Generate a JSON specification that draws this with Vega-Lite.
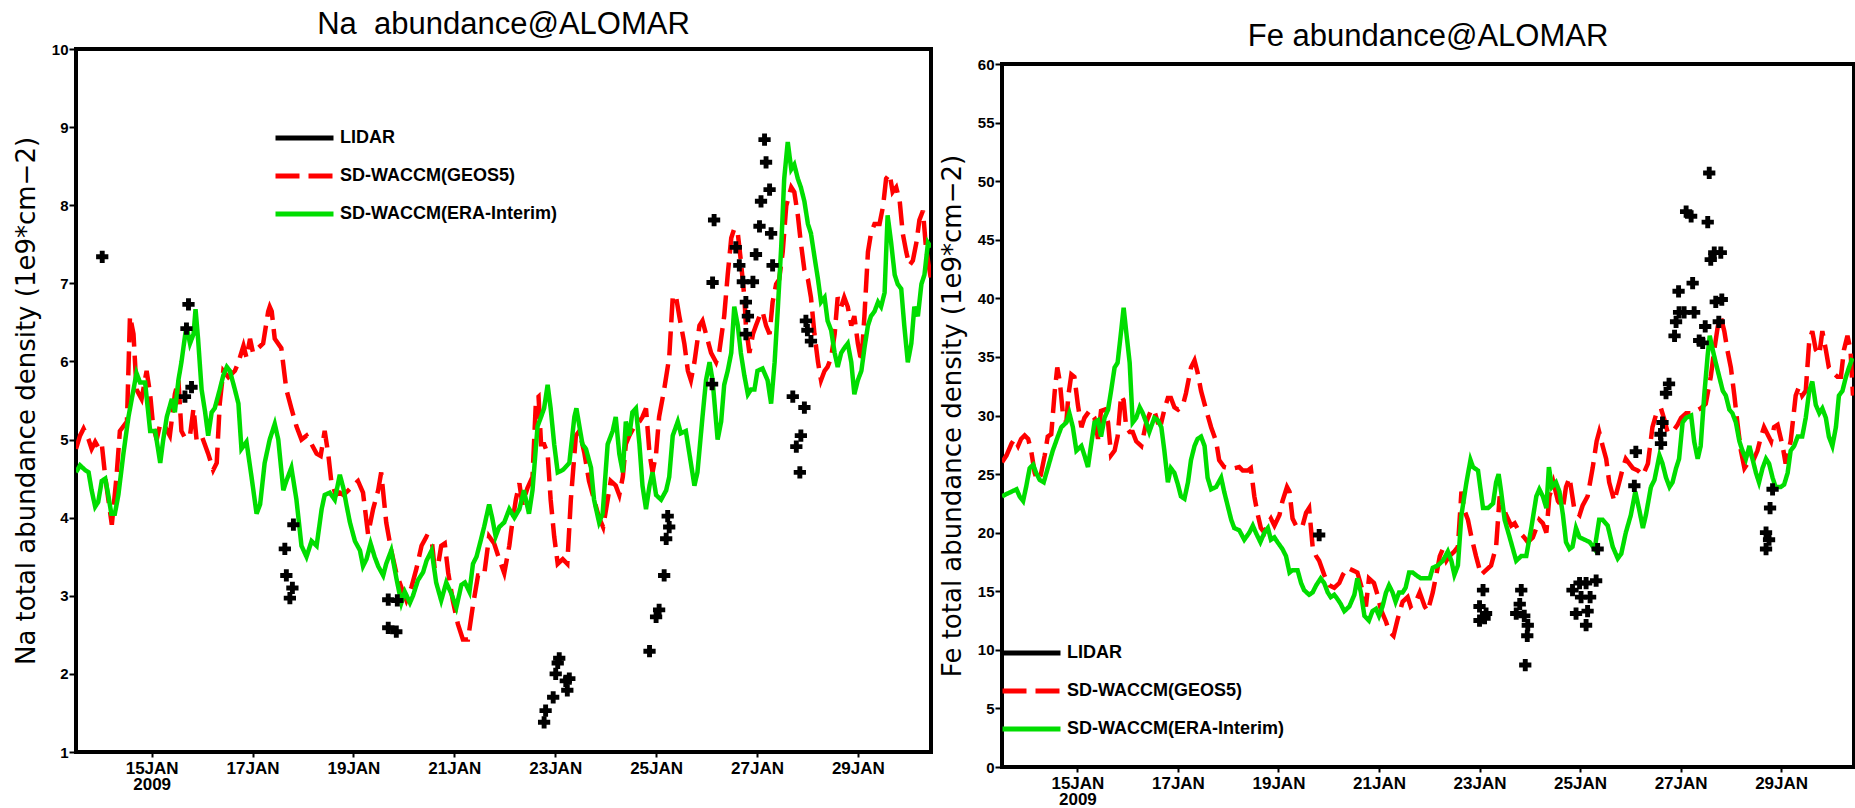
{
  "$schema": "https://vega.github.io/schema/vega-lite/v6.json",
  "background": "white",
  "padding": {"left": 11, "top": 7, "right": 0, "bottom": 0},
  "config": {
    "view": {"stroke": "black", "strokeWidth": 4},
    "axis": {"grid": false, "domain": false, "ticks": true, "tickColor": "black", "tickWidth": 2, "labelColor": "black", "titleColor": "black", "labelFlush": false, "labelOverlap": false},
    "axisY": {"labelFont": "Liberation Sans", "labelFontSize": 15, "labelFontWeight": "bold", "labelPadding": 1, "tickSize": 7, "format": "d", "titleFont": "DejaVu Sans", "titleFontSize": 26, "titleFontWeight": "normal", "titlePadding": 12},
    "axisX": {"labelFont": "Liberation Sans Narrow, Liberation Sans", "labelFontSize": 17, "labelFontWeight": "bold", "labelPadding": 3, "tickSize": 5, "labelLineHeight": 16},
    "title": {"font": "Liberation Sans", "fontSize": 31, "fontWeight": "normal", "color": "black", "baseline": "alphabetic", "offset": 1, "anchor": "middle"},
    "legend": {"orient": "none", "title": null, "symbolType": "stroke", "symbolSize": 3364, "symbolStrokeWidth": 5, "labelFont": "Liberation Sans", "labelFontSize": 18, "labelFontWeight": "bold", "labelColor": "black", "labelLimit": 0, "clipHeight": 20, "rowPadding": 18, "labelOffset": 4, "padding": 0}
  },
  "spacing": 4,
  "resolve": {"scale": {"x": "independent", "y": "independent", "color": "independent", "strokeDash": "independent"}, "legend": {"color": "independent", "strokeDash": "independent"}},
  "datasets": {
    "na": [
      {"s": "SD-WACCM(GEOS5)", "d": 13.50, "v": 4.88}, {"s": "SD-WACCM(GEOS5)", "d": 13.58, "v": 5.05}, {"s": "SD-WACCM(GEOS5)", "d": 13.65, "v": 5.14}, {"s": "SD-WACCM(GEOS5)", "d": 13.75, "v": 5.0}, {"s": "SD-WACCM(GEOS5)", "d": 13.81, "v": 4.88}, {"s": "SD-WACCM(GEOS5)", "d": 13.88, "v": 4.97}, {"s": "SD-WACCM(GEOS5)", "d": 13.94, "v": 4.9}, {"s": "SD-WACCM(GEOS5)", "d": 14.01, "v": 4.95}, {"s": "SD-WACCM(GEOS5)", "d": 14.08, "v": 4.52}, {"s": "SD-WACCM(GEOS5)", "d": 14.21, "v": 3.91}, {"s": "SD-WACCM(GEOS5)", "d": 14.30, "v": 4.5}, {"s": "SD-WACCM(GEOS5)", "d": 14.37, "v": 5.11}, {"s": "SD-WACCM(GEOS5)", "d": 14.51, "v": 5.23}, {"s": "SD-WACCM(GEOS5)", "d": 14.57, "v": 6.58}, {"s": "SD-WACCM(GEOS5)", "d": 14.64, "v": 6.35}, {"s": "SD-WACCM(GEOS5)", "d": 14.70, "v": 5.64}, {"s": "SD-WACCM(GEOS5)", "d": 14.80, "v": 5.52}, {"s": "SD-WACCM(GEOS5)", "d": 14.90, "v": 5.88}, {"s": "SD-WACCM(GEOS5)", "d": 14.97, "v": 5.58}, {"s": "SD-WACCM(GEOS5)", "d": 15.03, "v": 5.17}, {"s": "SD-WACCM(GEOS5)", "d": 15.10, "v": 5.0}, {"s": "SD-WACCM(GEOS5)", "d": 15.17, "v": 5.2}, {"s": "SD-WACCM(GEOS5)", "d": 15.26, "v": 5.17}, {"s": "SD-WACCM(GEOS5)", "d": 15.36, "v": 5.05}, {"s": "SD-WACCM(GEOS5)", "d": 15.46, "v": 5.58}, {"s": "SD-WACCM(GEOS5)", "d": 15.53, "v": 5.76}, {"s": "SD-WACCM(GEOS5)", "d": 15.59, "v": 5.11}, {"s": "SD-WACCM(GEOS5)", "d": 15.66, "v": 5.02}, {"s": "SD-WACCM(GEOS5)", "d": 15.76, "v": 5.05}, {"s": "SD-WACCM(GEOS5)", "d": 15.83, "v": 5.40}, {"s": "SD-WACCM(GEOS5)", "d": 15.89, "v": 5.0}, {"s": "SD-WACCM(GEOS5)", "d": 15.99, "v": 5.05}, {"s": "SD-WACCM(GEOS5)", "d": 16.12, "v": 4.82}, {"s": "SD-WACCM(GEOS5)", "d": 16.22, "v": 4.61}, {"s": "SD-WACCM(GEOS5)", "d": 16.29, "v": 4.7}, {"s": "SD-WACCM(GEOS5)", "d": 16.35, "v": 5.46}, {"s": "SD-WACCM(GEOS5)", "d": 16.42, "v": 5.88}, {"s": "SD-WACCM(GEOS5)", "d": 16.52, "v": 5.80}, {"s": "SD-WACCM(GEOS5)", "d": 16.65, "v": 5.88}, {"s": "SD-WACCM(GEOS5)", "d": 16.72, "v": 5.99}, {"s": "SD-WACCM(GEOS5)", "d": 16.82, "v": 6.2}, {"s": "SD-WACCM(GEOS5)", "d": 16.88, "v": 6.05}, {"s": "SD-WACCM(GEOS5)", "d": 16.95, "v": 6.29}, {"s": "SD-WACCM(GEOS5)", "d": 17.01, "v": 6.11}, {"s": "SD-WACCM(GEOS5)", "d": 17.11, "v": 6.17}, {"s": "SD-WACCM(GEOS5)", "d": 17.21, "v": 6.23}, {"s": "SD-WACCM(GEOS5)", "d": 17.31, "v": 6.64}, {"s": "SD-WACCM(GEOS5)", "d": 17.34, "v": 6.70}, {"s": "SD-WACCM(GEOS5)", "d": 17.38, "v": 6.64}, {"s": "SD-WACCM(GEOS5)", "d": 17.44, "v": 6.29}, {"s": "SD-WACCM(GEOS5)", "d": 17.57, "v": 6.17}, {"s": "SD-WACCM(GEOS5)", "d": 17.67, "v": 5.64}, {"s": "SD-WACCM(GEOS5)", "d": 17.77, "v": 5.40}, {"s": "SD-WACCM(GEOS5)", "d": 17.87, "v": 5.17}, {"s": "SD-WACCM(GEOS5)", "d": 17.97, "v": 5.0}, {"s": "SD-WACCM(GEOS5)", "d": 18.07, "v": 5.05}, {"s": "SD-WACCM(GEOS5)", "d": 18.17, "v": 4.94}, {"s": "SD-WACCM(GEOS5)", "d": 18.27, "v": 4.82}, {"s": "SD-WACCM(GEOS5)", "d": 18.35, "v": 4.79}, {"s": "SD-WACCM(GEOS5)", "d": 18.43, "v": 5.11}, {"s": "SD-WACCM(GEOS5)", "d": 18.50, "v": 4.82}, {"s": "SD-WACCM(GEOS5)", "d": 18.56, "v": 4.47}, {"s": "SD-WACCM(GEOS5)", "d": 18.65, "v": 4.29}, {"s": "SD-WACCM(GEOS5)", "d": 18.73, "v": 4.32}, {"s": "SD-WACCM(GEOS5)", "d": 18.80, "v": 4.29}, {"s": "SD-WACCM(GEOS5)", "d": 18.90, "v": 4.35}, {"s": "SD-WACCM(GEOS5)", "d": 18.99, "v": 4.41}, {"s": "SD-WACCM(GEOS5)", "d": 19.09, "v": 4.47}, {"s": "SD-WACCM(GEOS5)", "d": 19.19, "v": 4.32}, {"s": "SD-WACCM(GEOS5)", "d": 19.29, "v": 3.79}, {"s": "SD-WACCM(GEOS5)", "d": 19.39, "v": 4.11}, {"s": "SD-WACCM(GEOS5)", "d": 19.49, "v": 4.35}, {"s": "SD-WACCM(GEOS5)", "d": 19.55, "v": 4.58}, {"s": "SD-WACCM(GEOS5)", "d": 19.65, "v": 3.94}, {"s": "SD-WACCM(GEOS5)", "d": 19.75, "v": 3.58}, {"s": "SD-WACCM(GEOS5)", "d": 19.85, "v": 3.29}, {"s": "SD-WACCM(GEOS5)", "d": 19.95, "v": 3.11}, {"s": "SD-WACCM(GEOS5)", "d": 20.05, "v": 2.94}, {"s": "SD-WACCM(GEOS5)", "d": 20.15, "v": 3.11}, {"s": "SD-WACCM(GEOS5)", "d": 20.25, "v": 3.35}, {"s": "SD-WACCM(GEOS5)", "d": 20.35, "v": 3.64}, {"s": "SD-WACCM(GEOS5)", "d": 20.45, "v": 3.76}, {"s": "SD-WACCM(GEOS5)", "d": 20.55, "v": 3.73}, {"s": "SD-WACCM(GEOS5)", "d": 20.61, "v": 3.35}, {"s": "SD-WACCM(GEOS5)", "d": 20.68, "v": 3.40}, {"s": "SD-WACCM(GEOS5)", "d": 20.74, "v": 3.64}, {"s": "SD-WACCM(GEOS5)", "d": 20.81, "v": 3.67}, {"s": "SD-WACCM(GEOS5)", "d": 20.88, "v": 3.29}, {"s": "SD-WACCM(GEOS5)", "d": 20.97, "v": 2.94}, {"s": "SD-WACCM(GEOS5)", "d": 21.07, "v": 2.64}, {"s": "SD-WACCM(GEOS5)", "d": 21.17, "v": 2.44}, {"s": "SD-WACCM(GEOS5)", "d": 21.27, "v": 2.44}, {"s": "SD-WACCM(GEOS5)", "d": 21.37, "v": 2.88}, {"s": "SD-WACCM(GEOS5)", "d": 21.47, "v": 3.26},
      {"s": "SD-WACCM(GEOS5)", "d": 21.59, "v": 3.26}, {"s": "SD-WACCM(GEOS5)", "d": 21.69, "v": 3.76}, {"s": "SD-WACCM(GEOS5)", "d": 21.79, "v": 3.67}, {"s": "SD-WACCM(GEOS5)", "d": 21.89, "v": 3.47}, {"s": "SD-WACCM(GEOS5)", "d": 21.99, "v": 3.29}, {"s": "SD-WACCM(GEOS5)", "d": 22.09, "v": 3.64}, {"s": "SD-WACCM(GEOS5)", "d": 22.15, "v": 3.94}, {"s": "SD-WACCM(GEOS5)", "d": 22.22, "v": 4.23}, {"s": "SD-WACCM(GEOS5)", "d": 22.29, "v": 4.44}, {"s": "SD-WACCM(GEOS5)", "d": 22.35, "v": 4.17}, {"s": "SD-WACCM(GEOS5)", "d": 22.45, "v": 4.38}, {"s": "SD-WACCM(GEOS5)", "d": 22.55, "v": 4.52}, {"s": "SD-WACCM(GEOS5)", "d": 22.62, "v": 5.52}, {"s": "SD-WACCM(GEOS5)", "d": 22.67, "v": 5.55}, {"s": "SD-WACCM(GEOS5)", "d": 22.72, "v": 4.94}, {"s": "SD-WACCM(GEOS5)", "d": 22.78, "v": 4.94}, {"s": "SD-WACCM(GEOS5)", "d": 22.85, "v": 4.82}, {"s": "SD-WACCM(GEOS5)", "d": 22.91, "v": 4.23}, {"s": "SD-WACCM(GEOS5)", "d": 22.98, "v": 3.76}, {"s": "SD-WACCM(GEOS5)", "d": 23.05, "v": 3.41}, {"s": "SD-WACCM(GEOS5)", "d": 23.15, "v": 3.47}, {"s": "SD-WACCM(GEOS5)", "d": 23.24, "v": 3.41}, {"s": "SD-WACCM(GEOS5)", "d": 23.31, "v": 4.23}, {"s": "SD-WACCM(GEOS5)", "d": 23.41, "v": 5.05}, {"s": "SD-WACCM(GEOS5)", "d": 23.48, "v": 5.11}, {"s": "SD-WACCM(GEOS5)", "d": 23.58, "v": 4.82}, {"s": "SD-WACCM(GEOS5)", "d": 23.67, "v": 4.47}, {"s": "SD-WACCM(GEOS5)", "d": 23.77, "v": 4.23}, {"s": "SD-WACCM(GEOS5)", "d": 23.87, "v": 4.0}, {"s": "SD-WACCM(GEOS5)", "d": 23.95, "v": 3.88}, {"s": "SD-WACCM(GEOS5)", "d": 24.04, "v": 4.23}, {"s": "SD-WACCM(GEOS5)", "d": 24.10, "v": 4.47}, {"s": "SD-WACCM(GEOS5)", "d": 24.20, "v": 4.41}, {"s": "SD-WACCM(GEOS5)", "d": 24.27, "v": 4.29}, {"s": "SD-WACCM(GEOS5)", "d": 24.34, "v": 4.52}, {"s": "SD-WACCM(GEOS5)", "d": 24.40, "v": 4.94}, {"s": "SD-WACCM(GEOS5)", "d": 24.47, "v": 5.05}, {"s": "SD-WACCM(GEOS5)", "d": 24.57, "v": 5.17}, {"s": "SD-WACCM(GEOS5)", "d": 24.67, "v": 5.23}, {"s": "SD-WACCM(GEOS5)", "d": 24.73, "v": 5.29}, {"s": "SD-WACCM(GEOS5)", "d": 24.80, "v": 5.40}, {"s": "SD-WACCM(GEOS5)", "d": 24.87, "v": 4.82}, {"s": "SD-WACCM(GEOS5)", "d": 24.93, "v": 4.58}, {"s": "SD-WACCM(GEOS5)", "d": 25.00, "v": 4.82}, {"s": "SD-WACCM(GEOS5)", "d": 25.06, "v": 5.29}, {"s": "SD-WACCM(GEOS5)", "d": 25.16, "v": 5.64}, {"s": "SD-WACCM(GEOS5)", "d": 25.26, "v": 6.05}, {"s": "SD-WACCM(GEOS5)", "d": 25.33, "v": 6.82}, {"s": "SD-WACCM(GEOS5)", "d": 25.39, "v": 6.85}, {"s": "SD-WACCM(GEOS5)", "d": 25.46, "v": 6.58}, {"s": "SD-WACCM(GEOS5)", "d": 25.56, "v": 6.23}, {"s": "SD-WACCM(GEOS5)", "d": 25.63, "v": 5.88}, {"s": "SD-WACCM(GEOS5)", "d": 25.69, "v": 5.76}, {"s": "SD-WACCM(GEOS5)", "d": 25.76, "v": 5.99}, {"s": "SD-WACCM(GEOS5)", "d": 25.86, "v": 6.46}, {"s": "SD-WACCM(GEOS5)", "d": 25.92, "v": 6.52}, {"s": "SD-WACCM(GEOS5)", "d": 25.99, "v": 6.35}, {"s": "SD-WACCM(GEOS5)", "d": 26.09, "v": 6.11}, {"s": "SD-WACCM(GEOS5)", "d": 26.19, "v": 5.99}, {"s": "SD-WACCM(GEOS5)", "d": 26.25, "v": 6.11}, {"s": "SD-WACCM(GEOS5)", "d": 26.35, "v": 6.58}, {"s": "SD-WACCM(GEOS5)", "d": 26.42, "v": 7.11}, {"s": "SD-WACCM(GEOS5)", "d": 26.49, "v": 7.58}, {"s": "SD-WACCM(GEOS5)", "d": 26.55, "v": 7.70}, {"s": "SD-WACCM(GEOS5)", "d": 26.62, "v": 7.64}, {"s": "SD-WACCM(GEOS5)", "d": 26.68, "v": 7.29}, {"s": "SD-WACCM(GEOS5)", "d": 26.75, "v": 6.82}, {"s": "SD-WACCM(GEOS5)", "d": 26.78, "v": 6.46}, {"s": "SD-WACCM(GEOS5)", "d": 26.85, "v": 6.11}, {"s": "SD-WACCM(GEOS5)", "d": 26.92, "v": 6.35}, {"s": "SD-WACCM(GEOS5)", "d": 26.98, "v": 6.46}, {"s": "SD-WACCM(GEOS5)", "d": 27.05, "v": 6.58}, {"s": "SD-WACCM(GEOS5)", "d": 27.11, "v": 6.64}, {"s": "SD-WACCM(GEOS5)", "d": 27.18, "v": 6.46}, {"s": "SD-WACCM(GEOS5)", "d": 27.25, "v": 6.35}, {"s": "SD-WACCM(GEOS5)", "d": 27.31, "v": 6.76}, {"s": "SD-WACCM(GEOS5)", "d": 27.38, "v": 6.99}, {"s": "SD-WACCM(GEOS5)", "d": 27.44, "v": 7.05}, {"s": "SD-WACCM(GEOS5)", "d": 27.51, "v": 7.40}, {"s": "SD-WACCM(GEOS5)", "d": 27.58, "v": 7.99}, {"s": "SD-WACCM(GEOS5)", "d": 27.68, "v": 8.23}, {"s": "SD-WACCM(GEOS5)", "d": 27.74, "v": 8.17}, {"s": "SD-WACCM(GEOS5)", "d": 27.81, "v": 7.87}, {"s": "SD-WACCM(GEOS5)", "d": 27.87, "v": 7.52}, {"s": "SD-WACCM(GEOS5)", "d": 27.94, "v": 7.17}, {"s": "SD-WACCM(GEOS5)", "d": 28.01, "v": 7.05}, {"s": "SD-WACCM(GEOS5)", "d": 28.07, "v": 6.82}, {"s": "SD-WACCM(GEOS5)", "d": 28.14, "v": 6.35}, {"s": "SD-WACCM(GEOS5)", "d": 28.21, "v": 5.99}, {"s": "SD-WACCM(GEOS5)", "d": 28.27, "v": 5.76}, {"s": "SD-WACCM(GEOS5)", "d": 28.34, "v": 5.88}, {"s": "SD-WACCM(GEOS5)", "d": 28.40, "v": 5.93}, {"s": "SD-WACCM(GEOS5)", "d": 28.47, "v": 6.05}, {"s": "SD-WACCM(GEOS5)", "d": 28.54, "v": 6.35}, {"s": "SD-WACCM(GEOS5)", "d": 28.60, "v": 6.82}, {"s": "SD-WACCM(GEOS5)", "d": 28.67, "v": 6.70}, {"s": "SD-WACCM(GEOS5)", "d": 28.73, "v": 6.82}, {"s": "SD-WACCM(GEOS5)", "d": 28.80, "v": 6.70}, {"s": "SD-WACCM(GEOS5)", "d": 28.87, "v": 6.46}, {"s": "SD-WACCM(GEOS5)", "d": 28.93, "v": 6.58}, {"s": "SD-WACCM(GEOS5)", "d": 29.00, "v": 6.23}, {"s": "SD-WACCM(GEOS5)", "d": 29.07, "v": 5.99}, {"s": "SD-WACCM(GEOS5)", "d": 29.13, "v": 6.58}, {"s": "SD-WACCM(GEOS5)", "d": 29.20, "v": 7.40}, {"s": "SD-WACCM(GEOS5)", "d": 29.26, "v": 7.64}, {"s": "SD-WACCM(GEOS5)", "d": 29.33, "v": 7.76}, {"s": "SD-WACCM(GEOS5)", "d": 29.43, "v": 7.76}, {"s": "SD-WACCM(GEOS5)", "d": 29.50, "v": 7.99}, {"s": "SD-WACCM(GEOS5)", "d": 29.56, "v": 8.34}, {"s": "SD-WACCM(GEOS5)", "d": 29.63, "v": 8.40}, {"s": "SD-WACCM(GEOS5)", "d": 29.69, "v": 8.17}, {"s": "SD-WACCM(GEOS5)", "d": 29.76, "v": 8.23}, {"s": "SD-WACCM(GEOS5)", "d": 29.83, "v": 8.05}, {"s": "SD-WACCM(GEOS5)", "d": 29.89, "v": 7.64}, {"s": "SD-WACCM(GEOS5)", "d": 29.96, "v": 7.40}, {"s": "SD-WACCM(GEOS5)", "d": 30.02, "v": 7.23}, {"s": "SD-WACCM(GEOS5)", "d": 30.09, "v": 7.29}, {"s": "SD-WACCM(GEOS5)", "d": 30.16, "v": 7.52}, {"s": "SD-WACCM(GEOS5)", "d": 30.22, "v": 7.81}, {"s": "SD-WACCM(GEOS5)", "d": 30.29, "v": 7.93}, {"s": "SD-WACCM(GEOS5)", "d": 30.35, "v": 7.46}, {"s": "SD-WACCM(GEOS5)", "d": 30.42, "v": 7.17}, {"s": "SD-WACCM(GEOS5)", "d": 30.45, "v": 7.05},
      {"s": "SD-WACCM(ERA-Interim)", "d": 13.50, "v": 4.58}, {"s": "SD-WACCM(ERA-Interim)", "d": 13.58, "v": 4.67}, {"s": "SD-WACCM(ERA-Interim)", "d": 13.68, "v": 4.61}, {"s": "SD-WACCM(ERA-Interim)", "d": 13.75, "v": 4.58}, {"s": "SD-WACCM(ERA-Interim)", "d": 13.81, "v": 4.35}, {"s": "SD-WACCM(ERA-Interim)", "d": 13.88, "v": 4.14}, {"s": "SD-WACCM(ERA-Interim)", "d": 13.94, "v": 4.2}, {"s": "SD-WACCM(ERA-Interim)", "d": 14.01, "v": 4.47}, {"s": "SD-WACCM(ERA-Interim)", "d": 14.08, "v": 4.5}, {"s": "SD-WACCM(ERA-Interim)", "d": 14.14, "v": 4.29}, {"s": "SD-WACCM(ERA-Interim)", "d": 14.20, "v": 4.05}, {"s": "SD-WACCM(ERA-Interim)", "d": 14.27, "v": 4.05}, {"s": "SD-WACCM(ERA-Interim)", "d": 14.34, "v": 4.29}, {"s": "SD-WACCM(ERA-Interim)", "d": 14.44, "v": 4.82}, {"s": "SD-WACCM(ERA-Interim)", "d": 14.54, "v": 5.29}, {"s": "SD-WACCM(ERA-Interim)", "d": 14.64, "v": 5.64}, {"s": "SD-WACCM(ERA-Interim)", "d": 14.70, "v": 5.85}, {"s": "SD-WACCM(ERA-Interim)", "d": 14.77, "v": 5.73}, {"s": "SD-WACCM(ERA-Interim)", "d": 14.87, "v": 5.73}, {"s": "SD-WACCM(ERA-Interim)", "d": 14.97, "v": 5.11}, {"s": "SD-WACCM(ERA-Interim)", "d": 15.07, "v": 5.11}, {"s": "SD-WACCM(ERA-Interim)", "d": 15.17, "v": 4.70}, {"s": "SD-WACCM(ERA-Interim)", "d": 15.23, "v": 5.0}, {"s": "SD-WACCM(ERA-Interim)", "d": 15.30, "v": 5.29}, {"s": "SD-WACCM(ERA-Interim)", "d": 15.40, "v": 5.52}, {"s": "SD-WACCM(ERA-Interim)", "d": 15.46, "v": 5.35}, {"s": "SD-WACCM(ERA-Interim)", "d": 15.53, "v": 5.76}, {"s": "SD-WACCM(ERA-Interim)", "d": 15.59, "v": 5.99}, {"s": "SD-WACCM(ERA-Interim)", "d": 15.69, "v": 6.46}, {"s": "SD-WACCM(ERA-Interim)", "d": 15.76, "v": 6.23}, {"s": "SD-WACCM(ERA-Interim)", "d": 15.83, "v": 6.35}, {"s": "SD-WACCM(ERA-Interim)", "d": 15.87, "v": 6.67}, {"s": "SD-WACCM(ERA-Interim)", "d": 15.92, "v": 6.29}, {"s": "SD-WACCM(ERA-Interim)", "d": 15.99, "v": 5.64}, {"s": "SD-WACCM(ERA-Interim)", "d": 16.06, "v": 5.35}, {"s": "SD-WACCM(ERA-Interim)", "d": 16.12, "v": 5.05}, {"s": "SD-WACCM(ERA-Interim)", "d": 16.19, "v": 5.35}, {"s": "SD-WACCM(ERA-Interim)", "d": 16.25, "v": 5.40}, {"s": "SD-WACCM(ERA-Interim)", "d": 16.35, "v": 5.64}, {"s": "SD-WACCM(ERA-Interim)", "d": 16.42, "v": 5.82}, {"s": "SD-WACCM(ERA-Interim)", "d": 16.49, "v": 5.93}, {"s": "SD-WACCM(ERA-Interim)", "d": 16.55, "v": 5.88}, {"s": "SD-WACCM(ERA-Interim)", "d": 16.65, "v": 5.64}, {"s": "SD-WACCM(ERA-Interim)", "d": 16.72, "v": 5.46}, {"s": "SD-WACCM(ERA-Interim)", "d": 16.78, "v": 4.88}, {"s": "SD-WACCM(ERA-Interim)", "d": 16.88, "v": 4.97}, {"s": "SD-WACCM(ERA-Interim)", "d": 16.98, "v": 4.52}, {"s": "SD-WACCM(ERA-Interim)", "d": 17.08, "v": 4.05}, {"s": "SD-WACCM(ERA-Interim)", "d": 17.15, "v": 4.17}, {"s": "SD-WACCM(ERA-Interim)", "d": 17.24, "v": 4.70}, {"s": "SD-WACCM(ERA-Interim)", "d": 17.34, "v": 5.0}, {"s": "SD-WACCM(ERA-Interim)", "d": 17.44, "v": 5.2}, {"s": "SD-WACCM(ERA-Interim)", "d": 17.51, "v": 5.0}, {"s": "SD-WACCM(ERA-Interim)", "d": 17.61, "v": 4.35}, {"s": "SD-WACCM(ERA-Interim)", "d": 17.67, "v": 4.47}, {"s": "SD-WACCM(ERA-Interim)", "d": 17.77, "v": 4.64}, {"s": "SD-WACCM(ERA-Interim)", "d": 17.87, "v": 4.23}, {"s": "SD-WACCM(ERA-Interim)", "d": 17.97, "v": 3.64}, {"s": "SD-WACCM(ERA-Interim)", "d": 18.07, "v": 3.50}, {"s": "SD-WACCM(ERA-Interim)", "d": 18.17, "v": 3.70}, {"s": "SD-WACCM(ERA-Interim)", "d": 18.27, "v": 3.64}, {"s": "SD-WACCM(ERA-Interim)", "d": 18.37, "v": 4.11}, {"s": "SD-WACCM(ERA-Interim)", "d": 18.43, "v": 4.29}, {"s": "SD-WACCM(ERA-Interim)", "d": 18.53, "v": 4.32}, {"s": "SD-WACCM(ERA-Interim)", "d": 18.63, "v": 4.23}, {"s": "SD-WACCM(ERA-Interim)", "d": 18.73, "v": 4.55}, {"s": "SD-WACCM(ERA-Interim)", "d": 18.80, "v": 4.38}, {"s": "SD-WACCM(ERA-Interim)", "d": 18.86, "v": 4.17}, {"s": "SD-WACCM(ERA-Interim)", "d": 18.93, "v": 3.94}, {"s": "SD-WACCM(ERA-Interim)", "d": 19.03, "v": 3.70}, {"s": "SD-WACCM(ERA-Interim)", "d": 19.13, "v": 3.58}, {"s": "SD-WACCM(ERA-Interim)", "d": 19.19, "v": 3.38}, {"s": "SD-WACCM(ERA-Interim)", "d": 19.26, "v": 3.47}, {"s": "SD-WACCM(ERA-Interim)", "d": 19.34, "v": 3.67}, {"s": "SD-WACCM(ERA-Interim)", "d": 19.42, "v": 3.50}, {"s": "SD-WACCM(ERA-Interim)", "d": 19.49, "v": 3.38}, {"s": "SD-WACCM(ERA-Interim)", "d": 19.59, "v": 3.26}, {"s": "SD-WACCM(ERA-Interim)", "d": 19.65, "v": 3.41}, {"s": "SD-WACCM(ERA-Interim)", "d": 19.75, "v": 3.58}, {"s": "SD-WACCM(ERA-Interim)", "d": 19.85, "v": 3.23}, {"s": "SD-WACCM(ERA-Interim)", "d": 19.95, "v": 2.91}, {"s": "SD-WACCM(ERA-Interim)", "d": 20.02, "v": 3.05}, {"s": "SD-WACCM(ERA-Interim)", "d": 20.12, "v": 2.91}, {"s": "SD-WACCM(ERA-Interim)", "d": 20.18, "v": 3.0}, {"s": "SD-WACCM(ERA-Interim)", "d": 20.28, "v": 3.2}, {"s": "SD-WACCM(ERA-Interim)", "d": 20.38, "v": 3.3}, {"s": "SD-WACCM(ERA-Interim)", "d": 20.45, "v": 3.45}, {"s": "SD-WACCM(ERA-Interim)", "d": 20.55, "v": 3.58}, {"s": "SD-WACCM(ERA-Interim)", "d": 20.64, "v": 3.17}, {"s": "SD-WACCM(ERA-Interim)", "d": 20.74, "v": 2.94}, {"s": "SD-WACCM(ERA-Interim)", "d": 20.84, "v": 3.17}, {"s": "SD-WACCM(ERA-Interim)", "d": 20.94, "v": 3.03}, {"s": "SD-WACCM(ERA-Interim)", "d": 21.04, "v": 2.85}, {"s": "SD-WACCM(ERA-Interim)", "d": 21.14, "v": 3.14}, {"s": "SD-WACCM(ERA-Interim)", "d": 21.21, "v": 3.17}, {"s": "SD-WACCM(ERA-Interim)", "d": 21.30, "v": 3.05}, {"s": "SD-WACCM(ERA-Interim)", "d": 21.37, "v": 3.41}, {"s": "SD-WACCM(ERA-Interim)", "d": 21.44, "v": 3.50},
      {"s": "SD-WACCM(ERA-Interim)", "d": 21.52, "v": 3.70}, {"s": "SD-WACCM(ERA-Interim)", "d": 21.59, "v": 3.88}, {"s": "SD-WACCM(ERA-Interim)", "d": 21.69, "v": 4.17}, {"s": "SD-WACCM(ERA-Interim)", "d": 21.75, "v": 4.0}, {"s": "SD-WACCM(ERA-Interim)", "d": 21.82, "v": 3.76}, {"s": "SD-WACCM(ERA-Interim)", "d": 21.89, "v": 3.88}, {"s": "SD-WACCM(ERA-Interim)", "d": 21.99, "v": 3.94}, {"s": "SD-WACCM(ERA-Interim)", "d": 22.09, "v": 4.11}, {"s": "SD-WACCM(ERA-Interim)", "d": 22.19, "v": 4.0}, {"s": "SD-WACCM(ERA-Interim)", "d": 22.29, "v": 4.11}, {"s": "SD-WACCM(ERA-Interim)", "d": 22.38, "v": 4.35}, {"s": "SD-WACCM(ERA-Interim)", "d": 22.48, "v": 4.05}, {"s": "SD-WACCM(ERA-Interim)", "d": 22.55, "v": 4.35}, {"s": "SD-WACCM(ERA-Interim)", "d": 22.65, "v": 5.17}, {"s": "SD-WACCM(ERA-Interim)", "d": 22.72, "v": 5.29}, {"s": "SD-WACCM(ERA-Interim)", "d": 22.78, "v": 5.40}, {"s": "SD-WACCM(ERA-Interim)", "d": 22.85, "v": 5.70}, {"s": "SD-WACCM(ERA-Interim)", "d": 22.91, "v": 5.40}, {"s": "SD-WACCM(ERA-Interim)", "d": 22.98, "v": 4.94}, {"s": "SD-WACCM(ERA-Interim)", "d": 23.05, "v": 4.58}, {"s": "SD-WACCM(ERA-Interim)", "d": 23.15, "v": 4.61}, {"s": "SD-WACCM(ERA-Interim)", "d": 23.28, "v": 4.70}, {"s": "SD-WACCM(ERA-Interim)", "d": 23.38, "v": 5.29}, {"s": "SD-WACCM(ERA-Interim)", "d": 23.42, "v": 5.40}, {"s": "SD-WACCM(ERA-Interim)", "d": 23.48, "v": 5.17}, {"s": "SD-WACCM(ERA-Interim)", "d": 23.54, "v": 4.94}, {"s": "SD-WACCM(ERA-Interim)", "d": 23.61, "v": 4.88}, {"s": "SD-WACCM(ERA-Interim)", "d": 23.71, "v": 4.64}, {"s": "SD-WACCM(ERA-Interim)", "d": 23.77, "v": 4.23}, {"s": "SD-WACCM(ERA-Interim)", "d": 23.87, "v": 3.94}, {"s": "SD-WACCM(ERA-Interim)", "d": 23.94, "v": 4.05}, {"s": "SD-WACCM(ERA-Interim)", "d": 24.04, "v": 4.94}, {"s": "SD-WACCM(ERA-Interim)", "d": 24.14, "v": 5.11}, {"s": "SD-WACCM(ERA-Interim)", "d": 24.20, "v": 5.29}, {"s": "SD-WACCM(ERA-Interim)", "d": 24.27, "v": 4.82}, {"s": "SD-WACCM(ERA-Interim)", "d": 24.34, "v": 4.58}, {"s": "SD-WACCM(ERA-Interim)", "d": 24.40, "v": 5.23}, {"s": "SD-WACCM(ERA-Interim)", "d": 24.47, "v": 5.05}, {"s": "SD-WACCM(ERA-Interim)", "d": 24.53, "v": 5.35}, {"s": "SD-WACCM(ERA-Interim)", "d": 24.60, "v": 5.40}, {"s": "SD-WACCM(ERA-Interim)", "d": 24.67, "v": 4.94}, {"s": "SD-WACCM(ERA-Interim)", "d": 24.73, "v": 4.41}, {"s": "SD-WACCM(ERA-Interim)", "d": 24.80, "v": 4.11}, {"s": "SD-WACCM(ERA-Interim)", "d": 24.87, "v": 4.41}, {"s": "SD-WACCM(ERA-Interim)", "d": 24.93, "v": 4.58}, {"s": "SD-WACCM(ERA-Interim)", "d": 25.00, "v": 4.29}, {"s": "SD-WACCM(ERA-Interim)", "d": 25.10, "v": 4.23}, {"s": "SD-WACCM(ERA-Interim)", "d": 25.20, "v": 4.35}, {"s": "SD-WACCM(ERA-Interim)", "d": 25.26, "v": 4.52}, {"s": "SD-WACCM(ERA-Interim)", "d": 25.33, "v": 5.05}, {"s": "SD-WACCM(ERA-Interim)", "d": 25.43, "v": 5.23}, {"s": "SD-WACCM(ERA-Interim)", "d": 25.49, "v": 5.08}, {"s": "SD-WACCM(ERA-Interim)", "d": 25.59, "v": 5.11}, {"s": "SD-WACCM(ERA-Interim)", "d": 25.66, "v": 4.82}, {"s": "SD-WACCM(ERA-Interim)", "d": 25.76, "v": 4.41}, {"s": "SD-WACCM(ERA-Interim)", "d": 25.82, "v": 4.58}, {"s": "SD-WACCM(ERA-Interim)", "d": 25.92, "v": 5.29}, {"s": "SD-WACCM(ERA-Interim)", "d": 25.99, "v": 5.76}, {"s": "SD-WACCM(ERA-Interim)", "d": 26.06, "v": 5.99}, {"s": "SD-WACCM(ERA-Interim)", "d": 26.12, "v": 5.76}, {"s": "SD-WACCM(ERA-Interim)", "d": 26.22, "v": 5.0}, {"s": "SD-WACCM(ERA-Interim)", "d": 26.29, "v": 5.23}, {"s": "SD-WACCM(ERA-Interim)", "d": 26.35, "v": 5.70}, {"s": "SD-WACCM(ERA-Interim)", "d": 26.42, "v": 5.88}, {"s": "SD-WACCM(ERA-Interim)", "d": 26.49, "v": 6.11}, {"s": "SD-WACCM(ERA-Interim)", "d": 26.55, "v": 6.70}, {"s": "SD-WACCM(ERA-Interim)", "d": 26.62, "v": 6.46}, {"s": "SD-WACCM(ERA-Interim)", "d": 26.68, "v": 6.11}, {"s": "SD-WACCM(ERA-Interim)", "d": 26.75, "v": 5.82}, {"s": "SD-WACCM(ERA-Interim)", "d": 26.82, "v": 5.58}, {"s": "SD-WACCM(ERA-Interim)", "d": 26.88, "v": 5.64}, {"s": "SD-WACCM(ERA-Interim)", "d": 26.95, "v": 5.64}, {"s": "SD-WACCM(ERA-Interim)", "d": 27.01, "v": 5.88}, {"s": "SD-WACCM(ERA-Interim)", "d": 27.11, "v": 5.91}, {"s": "SD-WACCM(ERA-Interim)", "d": 27.21, "v": 5.76}, {"s": "SD-WACCM(ERA-Interim)", "d": 27.28, "v": 5.46}, {"s": "SD-WACCM(ERA-Interim)", "d": 27.35, "v": 5.99}, {"s": "SD-WACCM(ERA-Interim)", "d": 27.41, "v": 6.64}, {"s": "SD-WACCM(ERA-Interim)", "d": 27.48, "v": 7.46}, {"s": "SD-WACCM(ERA-Interim)", "d": 27.54, "v": 8.34}, {"s": "SD-WACCM(ERA-Interim)", "d": 27.61, "v": 8.81}, {"s": "SD-WACCM(ERA-Interim)", "d": 27.68, "v": 8.46}, {"s": "SD-WACCM(ERA-Interim)", "d": 27.74, "v": 8.52}, {"s": "SD-WACCM(ERA-Interim)", "d": 27.81, "v": 8.34}, {"s": "SD-WACCM(ERA-Interim)", "d": 27.87, "v": 8.23}, {"s": "SD-WACCM(ERA-Interim)", "d": 27.94, "v": 8.05}, {"s": "SD-WACCM(ERA-Interim)", "d": 28.01, "v": 7.76}, {"s": "SD-WACCM(ERA-Interim)", "d": 28.07, "v": 7.64}, {"s": "SD-WACCM(ERA-Interim)", "d": 28.14, "v": 7.34}, {"s": "SD-WACCM(ERA-Interim)", "d": 28.21, "v": 7.05}, {"s": "SD-WACCM(ERA-Interim)", "d": 28.27, "v": 6.76}, {"s": "SD-WACCM(ERA-Interim)", "d": 28.34, "v": 6.82}, {"s": "SD-WACCM(ERA-Interim)", "d": 28.40, "v": 6.52}, {"s": "SD-WACCM(ERA-Interim)", "d": 28.47, "v": 6.40}, {"s": "SD-WACCM(ERA-Interim)", "d": 28.54, "v": 6.11}, {"s": "SD-WACCM(ERA-Interim)", "d": 28.60, "v": 5.93}, {"s": "SD-WACCM(ERA-Interim)", "d": 28.67, "v": 6.11}, {"s": "SD-WACCM(ERA-Interim)", "d": 28.73, "v": 6.17}, {"s": "SD-WACCM(ERA-Interim)", "d": 28.80, "v": 6.23}, {"s": "SD-WACCM(ERA-Interim)", "d": 28.87, "v": 5.99}, {"s": "SD-WACCM(ERA-Interim)", "d": 28.93, "v": 5.58}, {"s": "SD-WACCM(ERA-Interim)", "d": 29.00, "v": 5.76}, {"s": "SD-WACCM(ERA-Interim)", "d": 29.07, "v": 5.88}, {"s": "SD-WACCM(ERA-Interim)", "d": 29.13, "v": 6.17}, {"s": "SD-WACCM(ERA-Interim)", "d": 29.20, "v": 6.46}, {"s": "SD-WACCM(ERA-Interim)", "d": 29.26, "v": 6.58}, {"s": "SD-WACCM(ERA-Interim)", "d": 29.33, "v": 6.64}, {"s": "SD-WACCM(ERA-Interim)", "d": 29.40, "v": 6.76}, {"s": "SD-WACCM(ERA-Interim)", "d": 29.46, "v": 6.70}, {"s": "SD-WACCM(ERA-Interim)", "d": 29.53, "v": 6.88}, {"s": "SD-WACCM(ERA-Interim)", "d": 29.59, "v": 7.87}, {"s": "SD-WACCM(ERA-Interim)", "d": 29.66, "v": 7.52}, {"s": "SD-WACCM(ERA-Interim)", "d": 29.73, "v": 7.11}, {"s": "SD-WACCM(ERA-Interim)", "d": 29.79, "v": 6.99}, {"s": "SD-WACCM(ERA-Interim)", "d": 29.86, "v": 6.93}, {"s": "SD-WACCM(ERA-Interim)", "d": 29.92, "v": 6.46}, {"s": "SD-WACCM(ERA-Interim)", "d": 29.99, "v": 5.99}, {"s": "SD-WACCM(ERA-Interim)", "d": 30.06, "v": 6.23}, {"s": "SD-WACCM(ERA-Interim)", "d": 30.12, "v": 6.70}, {"s": "SD-WACCM(ERA-Interim)", "d": 30.19, "v": 6.58}, {"s": "SD-WACCM(ERA-Interim)", "d": 30.26, "v": 6.99}, {"s": "SD-WACCM(ERA-Interim)", "d": 30.32, "v": 7.11}, {"s": "SD-WACCM(ERA-Interim)", "d": 30.39, "v": 7.52}, {"s": "SD-WACCM(ERA-Interim)", "d": 30.45, "v": 7.46},
      {"s": "LIDAR", "d": 14.02, "v": 7.34}, {"s": "LIDAR", "d": 15.66, "v": 5.55}, {"s": "LIDAR", "d": 15.69, "v": 6.42}, {"s": "LIDAR", "d": 15.73, "v": 6.73}, {"s": "LIDAR", "d": 15.79, "v": 5.67}, {"s": "LIDAR", "d": 17.64, "v": 3.60}, {"s": "LIDAR", "d": 17.67, "v": 3.26}, {"s": "LIDAR", "d": 17.74, "v": 2.97}, {"s": "LIDAR", "d": 17.79, "v": 3.10}, {"s": "LIDAR", "d": 17.81, "v": 3.91}, {"s": "LIDAR", "d": 19.69, "v": 2.95}, {"s": "LIDAR", "d": 19.69, "v": 2.59}, {"s": "LIDAR", "d": 19.85, "v": 2.54}, {"s": "LIDAR", "d": 19.87, "v": 2.94}, {"s": "LIDAR", "d": 22.78, "v": 1.38}, {"s": "LIDAR", "d": 22.81, "v": 1.53}, {"s": "LIDAR", "d": 22.96, "v": 1.70}, {"s": "LIDAR", "d": 23.01, "v": 2.0}, {"s": "LIDAR", "d": 23.05, "v": 2.14}, {"s": "LIDAR", "d": 23.08, "v": 2.20}, {"s": "LIDAR", "d": 23.21, "v": 1.91}, {"s": "LIDAR", "d": 23.24, "v": 1.79}, {"s": "LIDAR", "d": 23.28, "v": 1.94}, {"s": "LIDAR", "d": 24.87, "v": 2.29}, {"s": "LIDAR", "d": 25.00, "v": 2.73}, {"s": "LIDAR", "d": 25.06, "v": 2.82}, {"s": "LIDAR", "d": 25.16, "v": 3.26}, {"s": "LIDAR", "d": 25.20, "v": 3.73}, {"s": "LIDAR", "d": 25.23, "v": 4.02}, {"s": "LIDAR", "d": 25.26, "v": 3.88}, {"s": "LIDAR", "d": 26.11, "v": 5.71}, {"s": "LIDAR", "d": 26.12, "v": 7.01}, {"s": "LIDAR", "d": 26.15, "v": 7.81}, {"s": "LIDAR", "d": 26.58, "v": 7.46}, {"s": "LIDAR", "d": 26.65, "v": 7.23}, {"s": "LIDAR", "d": 26.72, "v": 7.02}, {"s": "LIDAR", "d": 26.78, "v": 6.76}, {"s": "LIDAR", "d": 26.82, "v": 6.58}, {"s": "LIDAR", "d": 26.78, "v": 6.35}, {"s": "LIDAR", "d": 26.92, "v": 7.02}, {"s": "LIDAR", "d": 26.98, "v": 7.37}, {"s": "LIDAR", "d": 27.05, "v": 7.73}, {"s": "LIDAR", "d": 27.08, "v": 8.05}, {"s": "LIDAR", "d": 27.25, "v": 8.20}, {"s": "LIDAR", "d": 27.18, "v": 8.55}, {"s": "LIDAR", "d": 27.15, "v": 8.84}, {"s": "LIDAR", "d": 27.28, "v": 7.64}, {"s": "LIDAR", "d": 27.31, "v": 7.23}, {"s": "LIDAR", "d": 27.71, "v": 5.55}, {"s": "LIDAR", "d": 27.94, "v": 5.41}, {"s": "LIDAR", "d": 27.87, "v": 5.05}, {"s": "LIDAR", "d": 27.78, "v": 4.91}, {"s": "LIDAR", "d": 27.85, "v": 4.58}, {"s": "LIDAR", "d": 28.00, "v": 6.40}, {"s": "LIDAR", "d": 27.97, "v": 6.52}, {"s": "LIDAR", "d": 28.07, "v": 6.26}
    ],
    "fe": [
      {"s": "SD-WACCM(GEOS5)", "d": 13.50, "v": 26.0}, {"s": "SD-WACCM(GEOS5)", "d": 13.59, "v": 26.6}, {"s": "SD-WACCM(GEOS5)", "d": 13.69, "v": 27.6}, {"s": "SD-WACCM(GEOS5)", "d": 13.75, "v": 28.0}, {"s": "SD-WACCM(GEOS5)", "d": 13.82, "v": 27.4}, {"s": "SD-WACCM(GEOS5)", "d": 13.88, "v": 28.0}, {"s": "SD-WACCM(GEOS5)", "d": 13.95, "v": 28.3}, {"s": "SD-WACCM(GEOS5)", "d": 14.02, "v": 28.0}, {"s": "SD-WACCM(GEOS5)", "d": 14.08, "v": 27.0}, {"s": "SD-WACCM(GEOS5)", "d": 14.15, "v": 25.1}, {"s": "SD-WACCM(GEOS5)", "d": 14.20, "v": 24.5}, {"s": "SD-WACCM(GEOS5)", "d": 14.27, "v": 24.9}, {"s": "SD-WACCM(GEOS5)", "d": 14.35, "v": 26.6}, {"s": "SD-WACCM(GEOS5)", "d": 14.41, "v": 28.2}, {"s": "SD-WACCM(GEOS5)", "d": 14.48, "v": 28.4}, {"s": "SD-WACCM(GEOS5)", "d": 14.55, "v": 32.1}, {"s": "SD-WACCM(GEOS5)", "d": 14.60, "v": 34.1}, {"s": "SD-WACCM(GEOS5)", "d": 14.65, "v": 32.9}, {"s": "SD-WACCM(GEOS5)", "d": 14.71, "v": 30.2}, {"s": "SD-WACCM(GEOS5)", "d": 14.78, "v": 29.4}, {"s": "SD-WACCM(GEOS5)", "d": 14.82, "v": 31.7}, {"s": "SD-WACCM(GEOS5)", "d": 14.88, "v": 33.5}, {"s": "SD-WACCM(GEOS5)", "d": 14.94, "v": 33.3}, {"s": "SD-WACCM(GEOS5)", "d": 15.01, "v": 30.9}, {"s": "SD-WACCM(GEOS5)", "d": 15.08, "v": 29.0}, {"s": "SD-WACCM(GEOS5)", "d": 15.14, "v": 29.8}, {"s": "SD-WACCM(GEOS5)", "d": 15.24, "v": 30.4}, {"s": "SD-WACCM(GEOS5)", "d": 15.34, "v": 29.8}, {"s": "SD-WACCM(GEOS5)", "d": 15.41, "v": 28.0}, {"s": "SD-WACCM(GEOS5)", "d": 15.47, "v": 30.4}, {"s": "SD-WACCM(GEOS5)", "d": 15.54, "v": 30.5}, {"s": "SD-WACCM(GEOS5)", "d": 15.61, "v": 29.4}, {"s": "SD-WACCM(GEOS5)", "d": 15.67, "v": 26.6}, {"s": "SD-WACCM(GEOS5)", "d": 15.74, "v": 27.0}, {"s": "SD-WACCM(GEOS5)", "d": 15.80, "v": 28.2}, {"s": "SD-WACCM(GEOS5)", "d": 15.87, "v": 31.7}, {"s": "SD-WACCM(GEOS5)", "d": 15.92, "v": 31.3}, {"s": "SD-WACCM(GEOS5)", "d": 15.97, "v": 29.0}, {"s": "SD-WACCM(GEOS5)", "d": 16.04, "v": 28.6}, {"s": "SD-WACCM(GEOS5)", "d": 16.10, "v": 28.6}, {"s": "SD-WACCM(GEOS5)", "d": 16.17, "v": 27.8}, {"s": "SD-WACCM(GEOS5)", "d": 16.27, "v": 27.4}, {"s": "SD-WACCM(GEOS5)", "d": 16.37, "v": 29.4}, {"s": "SD-WACCM(GEOS5)", "d": 16.47, "v": 30.5}, {"s": "SD-WACCM(GEOS5)", "d": 16.53, "v": 30.4}, {"s": "SD-WACCM(GEOS5)", "d": 16.60, "v": 29.4}, {"s": "SD-WACCM(GEOS5)", "d": 16.67, "v": 29.4}, {"s": "SD-WACCM(GEOS5)", "d": 16.73, "v": 30.5}, {"s": "SD-WACCM(GEOS5)", "d": 16.80, "v": 31.5}, {"s": "SD-WACCM(GEOS5)", "d": 16.86, "v": 31.5}, {"s": "SD-WACCM(GEOS5)", "d": 16.93, "v": 30.7}, {"s": "SD-WACCM(GEOS5)", "d": 17.00, "v": 30.5}, {"s": "SD-WACCM(GEOS5)", "d": 17.10, "v": 30.9}, {"s": "SD-WACCM(GEOS5)", "d": 17.16, "v": 31.9}, {"s": "SD-WACCM(GEOS5)", "d": 17.26, "v": 34.1}, {"s": "SD-WACCM(GEOS5)", "d": 17.33, "v": 34.7}, {"s": "SD-WACCM(GEOS5)", "d": 17.39, "v": 33.7}, {"s": "SD-WACCM(GEOS5)", "d": 17.46, "v": 32.1}, {"s": "SD-WACCM(GEOS5)", "d": 17.56, "v": 30.5}, {"s": "SD-WACCM(GEOS5)", "d": 17.66, "v": 29.0}, {"s": "SD-WACCM(GEOS5)", "d": 17.76, "v": 27.8}, {"s": "SD-WACCM(GEOS5)", "d": 17.82, "v": 26.2}, {"s": "SD-WACCM(GEOS5)", "d": 17.92, "v": 25.6}, {"s": "SD-WACCM(GEOS5)", "d": 18.02, "v": 25.5}, {"s": "SD-WACCM(GEOS5)", "d": 18.12, "v": 25.5}, {"s": "SD-WACCM(GEOS5)", "d": 18.22, "v": 25.6}, {"s": "SD-WACCM(GEOS5)", "d": 18.29, "v": 25.3}, {"s": "SD-WACCM(GEOS5)", "d": 18.39, "v": 25.3}, {"s": "SD-WACCM(GEOS5)", "d": 18.45, "v": 25.5}, {"s": "SD-WACCM(GEOS5)", "d": 18.52, "v": 23.1}, {"s": "SD-WACCM(GEOS5)", "d": 18.59, "v": 21.5}, {"s": "SD-WACCM(GEOS5)", "d": 18.65, "v": 20.4}, {"s": "SD-WACCM(GEOS5)", "d": 18.72, "v": 20.0}, {"s": "SD-WACCM(GEOS5)", "d": 18.79, "v": 20.8}, {"s": "SD-WACCM(GEOS5)", "d": 18.85, "v": 21.2}, {"s": "SD-WACCM(GEOS5)", "d": 18.92, "v": 20.6}, {"s": "SD-WACCM(GEOS5)", "d": 19.02, "v": 21.5}, {"s": "SD-WACCM(GEOS5)", "d": 19.08, "v": 22.7}, {"s": "SD-WACCM(GEOS5)", "d": 19.17, "v": 23.9}, {"s": "SD-WACCM(GEOS5)", "d": 19.22, "v": 23.5}, {"s": "SD-WACCM(GEOS5)", "d": 19.28, "v": 21.2}, {"s": "SD-WACCM(GEOS5)", "d": 19.35, "v": 20.6}, {"s": "SD-WACCM(GEOS5)", "d": 19.41, "v": 20.8}, {"s": "SD-WACCM(GEOS5)", "d": 19.48, "v": 20.6}, {"s": "SD-WACCM(GEOS5)", "d": 19.55, "v": 21.7}, {"s": "SD-WACCM(GEOS5)", "d": 19.61, "v": 22.1}, {"s": "SD-WACCM(GEOS5)", "d": 19.68, "v": 18.8}, {"s": "SD-WACCM(GEOS5)", "d": 19.75, "v": 18.0}, {"s": "SD-WACCM(GEOS5)", "d": 19.81, "v": 17.6}, {"s": "SD-WACCM(GEOS5)", "d": 19.91, "v": 16.4}, {"s": "SD-WACCM(GEOS5)", "d": 20.01, "v": 15.5}, {"s": "SD-WACCM(GEOS5)", "d": 20.11, "v": 15.3}, {"s": "SD-WACCM(GEOS5)", "d": 20.21, "v": 15.7}, {"s": "SD-WACCM(GEOS5)", "d": 20.28, "v": 16.4}, {"s": "SD-WACCM(GEOS5)", "d": 20.37, "v": 17.0}, {"s": "SD-WACCM(GEOS5)", "d": 20.47, "v": 16.8}, {"s": "SD-WACCM(GEOS5)", "d": 20.57, "v": 16.6}, {"s": "SD-WACCM(GEOS5)", "d": 20.67, "v": 15.1}, {"s": "SD-WACCM(GEOS5)", "d": 20.74, "v": 13.7}, {"s": "SD-WACCM(GEOS5)", "d": 20.80, "v": 16.1}, {"s": "SD-WACCM(GEOS5)", "d": 20.90, "v": 15.7}, {"s": "SD-WACCM(GEOS5)", "d": 20.97, "v": 14.7}, {"s": "SD-WACCM(GEOS5)", "d": 21.04, "v": 13.4}, {"s": "SD-WACCM(GEOS5)", "d": 21.14, "v": 12.4}, {"s": "SD-WACCM(GEOS5)", "d": 21.20, "v": 11.6}, {"s": "SD-WACCM(GEOS5)", "d": 21.29, "v": 11.2}, {"s": "SD-WACCM(GEOS5)", "d": 21.37, "v": 12.6}, {"s": "SD-WACCM(GEOS5)", "d": 21.47, "v": 14.1}, {"s": "SD-WACCM(GEOS5)", "d": 21.57, "v": 14.5}, {"s": "SD-WACCM(GEOS5)", "d": 21.63, "v": 13.7}, {"s": "SD-WACCM(GEOS5)", "d": 21.73, "v": 14.1}, {"s": "SD-WACCM(GEOS5)", "d": 21.81, "v": 14.9}, {"s": "SD-WACCM(GEOS5)", "d": 21.91, "v": 13.7}, {"s": "SD-WACCM(GEOS5)", "d": 21.97, "v": 13.3}, {"s": "SD-WACCM(GEOS5)", "d": 22.07, "v": 14.9}, {"s": "SD-WACCM(GEOS5)", "d": 22.14, "v": 16.4}, {"s": "SD-WACCM(GEOS5)", "d": 22.21, "v": 18.0}, {"s": "SD-WACCM(GEOS5)", "d": 22.27, "v": 18.6}, {"s": "SD-WACCM(GEOS5)", "d": 22.34, "v": 17.6}, {"s": "SD-WACCM(GEOS5)", "d": 22.40, "v": 18.0}, {"s": "SD-WACCM(GEOS5)", "d": 22.50, "v": 18.4}, {"s": "SD-WACCM(GEOS5)", "d": 22.57, "v": 18.8}, {"s": "SD-WACCM(GEOS5)", "d": 22.64, "v": 23.5}, {"s": "SD-WACCM(GEOS5)", "d": 22.70, "v": 21.9}, {"s": "SD-WACCM(GEOS5)", "d": 22.77, "v": 21.1}, {"s": "SD-WACCM(GEOS5)", "d": 22.84, "v": 19.6}, {"s": "SD-WACCM(GEOS5)", "d": 22.93, "v": 18.0}, {"s": "SD-WACCM(GEOS5)", "d": 23.03, "v": 16.4}, {"s": "SD-WACCM(GEOS5)", "d": 23.13, "v": 16.8}, {"s": "SD-WACCM(GEOS5)", "d": 23.23, "v": 17.2}, {"s": "SD-WACCM(GEOS5)", "d": 23.33, "v": 18.8}, {"s": "SD-WACCM(GEOS5)", "d": 23.40, "v": 23.1}, {"s": "SD-WACCM(GEOS5)", "d": 23.46, "v": 22.3}, {"s": "SD-WACCM(GEOS5)", "d": 23.53, "v": 21.5}, {"s": "SD-WACCM(GEOS5)", "d": 23.63, "v": 20.6}, {"s": "SD-WACCM(GEOS5)", "d": 23.70, "v": 20.8}, {"s": "SD-WACCM(GEOS5)", "d": 23.80, "v": 20.0}, {"s": "SD-WACCM(GEOS5)", "d": 23.89, "v": 19.6}, {"s": "SD-WACCM(GEOS5)", "d": 23.96, "v": 19.2}, {"s": "SD-WACCM(GEOS5)", "d": 24.06, "v": 19.6}, {"s": "SD-WACCM(GEOS5)", "d": 24.13, "v": 20.4}, {"s": "SD-WACCM(GEOS5)", "d": 24.19, "v": 21.1}, {"s": "SD-WACCM(GEOS5)", "d": 24.26, "v": 20.8}, {"s": "SD-WACCM(GEOS5)", "d": 24.33, "v": 20.0}, {"s": "SD-WACCM(GEOS5)", "d": 24.39, "v": 23.1}, {"s": "SD-WACCM(GEOS5)", "d": 24.47, "v": 24.3}, {"s": "SD-WACCM(GEOS5)", "d": 24.56, "v": 22.7}, {"s": "SD-WACCM(GEOS5)", "d": 24.66, "v": 22.1}, {"s": "SD-WACCM(GEOS5)", "d": 24.72, "v": 23.9}, {"s": "SD-WACCM(GEOS5)", "d": 24.79, "v": 24.7}, {"s": "SD-WACCM(GEOS5)", "d": 24.89, "v": 21.9}, {"s": "SD-WACCM(GEOS5)", "d": 24.99, "v": 21.5}, {"s": "SD-WACCM(GEOS5)", "d": 25.05, "v": 22.3}, {"s": "SD-WACCM(GEOS5)", "d": 25.15, "v": 23.1}, {"s": "SD-WACCM(GEOS5)", "d": 25.25, "v": 25.5}, {"s": "SD-WACCM(GEOS5)", "d": 25.33, "v": 27.8}, {"s": "SD-WACCM(GEOS5)", "d": 25.38, "v": 28.6}, {"s": "SD-WACCM(GEOS5)", "d": 25.45, "v": 27.4}, {"s": "SD-WACCM(GEOS5)", "d": 25.52, "v": 26.3}, {"s": "SD-WACCM(GEOS5)", "d": 25.58, "v": 24.3}, {"s": "SD-WACCM(GEOS5)", "d": 25.68, "v": 22.7}, {"s": "SD-WACCM(GEOS5)", "d": 25.78, "v": 24.3}, {"s": "SD-WACCM(GEOS5)", "d": 25.85, "v": 25.5}, {"s": "SD-WACCM(GEOS5)", "d": 25.91, "v": 26.3}, {"s": "SD-WACCM(GEOS5)", "d": 25.98, "v": 25.9}, {"s": "SD-WACCM(GEOS5)", "d": 26.05, "v": 25.5}, {"s": "SD-WACCM(GEOS5)", "d": 26.15, "v": 25.3}, {"s": "SD-WACCM(GEOS5)", "d": 26.25, "v": 24.9}, {"s": "SD-WACCM(GEOS5)", "d": 26.35, "v": 25.9}, {"s": "SD-WACCM(GEOS5)", "d": 26.44, "v": 29.0}, {"s": "SD-WACCM(GEOS5)", "d": 26.52, "v": 30.2}, {"s": "SD-WACCM(GEOS5)", "d": 26.61, "v": 30.6}, {"s": "SD-WACCM(GEOS5)", "d": 26.68, "v": 29.6}, {"s": "SD-WACCM(GEOS5)", "d": 26.74, "v": 28.6}, {"s": "SD-WACCM(GEOS5)", "d": 26.84, "v": 28.6}, {"s": "SD-WACCM(GEOS5)", "d": 26.94, "v": 29.2}, {"s": "SD-WACCM(GEOS5)", "d": 27.01, "v": 29.8}, {"s": "SD-WACCM(GEOS5)", "d": 27.11, "v": 30.2}, {"s": "SD-WACCM(GEOS5)", "d": 27.21, "v": 30.2}, {"s": "SD-WACCM(GEOS5)", "d": 27.31, "v": 30.4}, {"s": "SD-WACCM(GEOS5)", "d": 27.40, "v": 30.6}, {"s": "SD-WACCM(GEOS5)", "d": 27.50, "v": 31.0}, {"s": "SD-WACCM(GEOS5)", "d": 27.60, "v": 33.3}, {"s": "SD-WACCM(GEOS5)", "d": 27.67, "v": 35.6}, {"s": "SD-WACCM(GEOS5)", "d": 27.74, "v": 37.6}, {"s": "SD-WACCM(GEOS5)", "d": 27.80, "v": 38.4}, {"s": "SD-WACCM(GEOS5)", "d": 27.87, "v": 37.2}, {"s": "SD-WACCM(GEOS5)", "d": 27.93, "v": 35.6}, {"s": "SD-WACCM(GEOS5)", "d": 28.00, "v": 34.1}, {"s": "SD-WACCM(GEOS5)", "d": 28.07, "v": 31.7}, {"s": "SD-WACCM(GEOS5)", "d": 28.13, "v": 29.4}, {"s": "SD-WACCM(GEOS5)", "d": 28.20, "v": 27.0}, {"s": "SD-WACCM(GEOS5)", "d": 28.27, "v": 25.5}, {"s": "SD-WACCM(GEOS5)", "d": 28.33, "v": 25.9}, {"s": "SD-WACCM(GEOS5)", "d": 28.40, "v": 26.6}, {"s": "SD-WACCM(GEOS5)", "d": 28.46, "v": 26.3}, {"s": "SD-WACCM(GEOS5)", "d": 28.53, "v": 27.0}, {"s": "SD-WACCM(GEOS5)", "d": 28.60, "v": 28.2}, {"s": "SD-WACCM(GEOS5)", "d": 28.66, "v": 29.0}, {"s": "SD-WACCM(GEOS5)", "d": 28.73, "v": 28.4}, {"s": "SD-WACCM(GEOS5)", "d": 28.80, "v": 27.8}, {"s": "SD-WACCM(GEOS5)", "d": 28.86, "v": 29.0}, {"s": "SD-WACCM(GEOS5)", "d": 28.93, "v": 29.2}, {"s": "SD-WACCM(GEOS5)", "d": 29.03, "v": 27.4}, {"s": "SD-WACCM(GEOS5)", "d": 29.09, "v": 25.9}, {"s": "SD-WACCM(GEOS5)", "d": 29.19, "v": 27.8}, {"s": "SD-WACCM(GEOS5)", "d": 29.29, "v": 31.7}, {"s": "SD-WACCM(GEOS5)", "d": 29.36, "v": 32.5}, {"s": "SD-WACCM(GEOS5)", "d": 29.42, "v": 31.7}, {"s": "SD-WACCM(GEOS5)", "d": 29.49, "v": 32.1}, {"s": "SD-WACCM(GEOS5)", "d": 29.56, "v": 36.4}, {"s": "SD-WACCM(GEOS5)", "d": 29.62, "v": 37.2}, {"s": "SD-WACCM(GEOS5)", "d": 29.69, "v": 35.6}, {"s": "SD-WACCM(GEOS5)", "d": 29.76, "v": 35.2}, {"s": "SD-WACCM(GEOS5)", "d": 29.82, "v": 37.2}, {"s": "SD-WACCM(GEOS5)", "d": 29.89, "v": 35.6}, {"s": "SD-WACCM(GEOS5)", "d": 29.95, "v": 34.1}, {"s": "SD-WACCM(GEOS5)", "d": 30.02, "v": 33.7}, {"s": "SD-WACCM(GEOS5)", "d": 30.12, "v": 33.3}, {"s": "SD-WACCM(GEOS5)", "d": 30.19, "v": 33.3}, {"s": "SD-WACCM(GEOS5)", "d": 30.25, "v": 35.6}, {"s": "SD-WACCM(GEOS5)", "d": 30.32, "v": 36.8}, {"s": "SD-WACCM(GEOS5)", "d": 30.38, "v": 35.6}, {"s": "SD-WACCM(GEOS5)", "d": 30.43, "v": 31.7},
      {"s": "SD-WACCM(ERA-Interim)", "d": 13.50, "v": 23.1}, {"s": "SD-WACCM(ERA-Interim)", "d": 13.59, "v": 23.3}, {"s": "SD-WACCM(ERA-Interim)", "d": 13.69, "v": 23.5}, {"s": "SD-WACCM(ERA-Interim)", "d": 13.79, "v": 23.7}, {"s": "SD-WACCM(ERA-Interim)", "d": 13.85, "v": 23.1}, {"s": "SD-WACCM(ERA-Interim)", "d": 13.92, "v": 22.7}, {"s": "SD-WACCM(ERA-Interim)", "d": 13.98, "v": 23.9}, {"s": "SD-WACCM(ERA-Interim)", "d": 14.05, "v": 25.5}, {"s": "SD-WACCM(ERA-Interim)", "d": 14.12, "v": 25.8}, {"s": "SD-WACCM(ERA-Interim)", "d": 14.18, "v": 25.1}, {"s": "SD-WACCM(ERA-Interim)", "d": 14.25, "v": 24.5}, {"s": "SD-WACCM(ERA-Interim)", "d": 14.33, "v": 24.3}, {"s": "SD-WACCM(ERA-Interim)", "d": 14.41, "v": 25.5}, {"s": "SD-WACCM(ERA-Interim)", "d": 14.51, "v": 27.0}, {"s": "SD-WACCM(ERA-Interim)", "d": 14.61, "v": 28.2}, {"s": "SD-WACCM(ERA-Interim)", "d": 14.68, "v": 29.0}, {"s": "SD-WACCM(ERA-Interim)", "d": 14.78, "v": 29.4}, {"s": "SD-WACCM(ERA-Interim)", "d": 14.84, "v": 30.2}, {"s": "SD-WACCM(ERA-Interim)", "d": 14.91, "v": 29.0}, {"s": "SD-WACCM(ERA-Interim)", "d": 14.98, "v": 27.0}, {"s": "SD-WACCM(ERA-Interim)", "d": 15.08, "v": 27.4}, {"s": "SD-WACCM(ERA-Interim)", "d": 15.14, "v": 26.6}, {"s": "SD-WACCM(ERA-Interim)", "d": 15.21, "v": 25.6}, {"s": "SD-WACCM(ERA-Interim)", "d": 15.27, "v": 27.4}, {"s": "SD-WACCM(ERA-Interim)", "d": 15.34, "v": 29.4}, {"s": "SD-WACCM(ERA-Interim)", "d": 15.41, "v": 29.6}, {"s": "SD-WACCM(ERA-Interim)", "d": 15.47, "v": 28.2}, {"s": "SD-WACCM(ERA-Interim)", "d": 15.54, "v": 29.8}, {"s": "SD-WACCM(ERA-Interim)", "d": 15.61, "v": 30.5}, {"s": "SD-WACCM(ERA-Interim)", "d": 15.67, "v": 32.1}, {"s": "SD-WACCM(ERA-Interim)", "d": 15.74, "v": 34.1}, {"s": "SD-WACCM(ERA-Interim)", "d": 15.80, "v": 34.5}, {"s": "SD-WACCM(ERA-Interim)", "d": 15.87, "v": 37.2}, {"s": "SD-WACCM(ERA-Interim)", "d": 15.92, "v": 39.2}, {"s": "SD-WACCM(ERA-Interim)", "d": 15.97, "v": 37.2}, {"s": "SD-WACCM(ERA-Interim)", "d": 16.04, "v": 34.5}, {"s": "SD-WACCM(ERA-Interim)", "d": 16.10, "v": 29.4}, {"s": "SD-WACCM(ERA-Interim)", "d": 16.17, "v": 29.8}, {"s": "SD-WACCM(ERA-Interim)", "d": 16.24, "v": 30.7}, {"s": "SD-WACCM(ERA-Interim)", "d": 16.30, "v": 30.2}, {"s": "SD-WACCM(ERA-Interim)", "d": 16.37, "v": 29.4}, {"s": "SD-WACCM(ERA-Interim)", "d": 16.43, "v": 28.6}, {"s": "SD-WACCM(ERA-Interim)", "d": 16.53, "v": 29.8}, {"s": "SD-WACCM(ERA-Interim)", "d": 16.60, "v": 29.6}, {"s": "SD-WACCM(ERA-Interim)", "d": 16.67, "v": 29.0}, {"s": "SD-WACCM(ERA-Interim)", "d": 16.73, "v": 27.0}, {"s": "SD-WACCM(ERA-Interim)", "d": 16.80, "v": 24.3}, {"s": "SD-WACCM(ERA-Interim)", "d": 16.86, "v": 25.5}, {"s": "SD-WACCM(ERA-Interim)", "d": 16.93, "v": 25.1}, {"s": "SD-WACCM(ERA-Interim)", "d": 17.00, "v": 24.1}, {"s": "SD-WACCM(ERA-Interim)", "d": 17.06, "v": 23.1}, {"s": "SD-WACCM(ERA-Interim)", "d": 17.13, "v": 22.9}, {"s": "SD-WACCM(ERA-Interim)", "d": 17.20, "v": 24.3}, {"s": "SD-WACCM(ERA-Interim)", "d": 17.26, "v": 26.2}, {"s": "SD-WACCM(ERA-Interim)", "d": 17.33, "v": 27.4}, {"s": "SD-WACCM(ERA-Interim)", "d": 17.39, "v": 28.0}, {"s": "SD-WACCM(ERA-Interim)", "d": 17.46, "v": 28.2}, {"s": "SD-WACCM(ERA-Interim)", "d": 17.53, "v": 27.4}, {"s": "SD-WACCM(ERA-Interim)", "d": 17.59, "v": 24.7}, {"s": "SD-WACCM(ERA-Interim)", "d": 17.66, "v": 23.7}, {"s": "SD-WACCM(ERA-Interim)", "d": 17.76, "v": 23.9}, {"s": "SD-WACCM(ERA-Interim)", "d": 17.86, "v": 24.7}, {"s": "SD-WACCM(ERA-Interim)", "d": 17.92, "v": 23.5}, {"s": "SD-WACCM(ERA-Interim)", "d": 17.99, "v": 22.3}, {"s": "SD-WACCM(ERA-Interim)", "d": 18.06, "v": 21.1}, {"s": "SD-WACCM(ERA-Interim)", "d": 18.12, "v": 20.4}, {"s": "SD-WACCM(ERA-Interim)", "d": 18.22, "v": 20.2}, {"s": "SD-WACCM(ERA-Interim)", "d": 18.32, "v": 19.4}, {"s": "SD-WACCM(ERA-Interim)", "d": 18.42, "v": 20.0}, {"s": "SD-WACCM(ERA-Interim)", "d": 18.49, "v": 20.6}, {"s": "SD-WACCM(ERA-Interim)", "d": 18.55, "v": 20.0}, {"s": "SD-WACCM(ERA-Interim)", "d": 18.64, "v": 19.2}, {"s": "SD-WACCM(ERA-Interim)", "d": 18.72, "v": 20.0}, {"s": "SD-WACCM(ERA-Interim)", "d": 18.79, "v": 20.4}, {"s": "SD-WACCM(ERA-Interim)", "d": 18.85, "v": 19.4}, {"s": "SD-WACCM(ERA-Interim)", "d": 18.92, "v": 19.6}, {"s": "SD-WACCM(ERA-Interim)", "d": 18.98, "v": 19.2}, {"s": "SD-WACCM(ERA-Interim)", "d": 19.08, "v": 18.6}, {"s": "SD-WACCM(ERA-Interim)", "d": 19.15, "v": 18.0}, {"s": "SD-WACCM(ERA-Interim)", "d": 19.22, "v": 16.6}, {"s": "SD-WACCM(ERA-Interim)", "d": 19.28, "v": 16.8}, {"s": "SD-WACCM(ERA-Interim)", "d": 19.38, "v": 16.8}, {"s": "SD-WACCM(ERA-Interim)", "d": 19.45, "v": 15.7}, {"s": "SD-WACCM(ERA-Interim)", "d": 19.51, "v": 15.1}, {"s": "SD-WACCM(ERA-Interim)", "d": 19.61, "v": 14.7}, {"s": "SD-WACCM(ERA-Interim)", "d": 19.68, "v": 14.9}, {"s": "SD-WACCM(ERA-Interim)", "d": 19.75, "v": 15.5}, {"s": "SD-WACCM(ERA-Interim)", "d": 19.84, "v": 16.1}, {"s": "SD-WACCM(ERA-Interim)", "d": 19.91, "v": 15.7}, {"s": "SD-WACCM(ERA-Interim)", "d": 19.98, "v": 14.9}, {"s": "SD-WACCM(ERA-Interim)", "d": 20.04, "v": 14.5}, {"s": "SD-WACCM(ERA-Interim)", "d": 20.11, "v": 14.7}, {"s": "SD-WACCM(ERA-Interim)", "d": 20.18, "v": 14.3}, {"s": "SD-WACCM(ERA-Interim)", "d": 20.24, "v": 13.9}, {"s": "SD-WACCM(ERA-Interim)", "d": 20.31, "v": 13.3}, {"s": "SD-WACCM(ERA-Interim)", "d": 20.41, "v": 13.7}, {"s": "SD-WACCM(ERA-Interim)", "d": 20.51, "v": 14.7}, {"s": "SD-WACCM(ERA-Interim)", "d": 20.57, "v": 16.1}, {"s": "SD-WACCM(ERA-Interim)", "d": 20.64, "v": 14.9}, {"s": "SD-WACCM(ERA-Interim)", "d": 20.71, "v": 12.9}, {"s": "SD-WACCM(ERA-Interim)", "d": 20.80, "v": 12.5}, {"s": "SD-WACCM(ERA-Interim)", "d": 20.87, "v": 13.3}, {"s": "SD-WACCM(ERA-Interim)", "d": 20.94, "v": 13.5}, {"s": "SD-WACCM(ERA-Interim)", "d": 21.00, "v": 12.9}, {"s": "SD-WACCM(ERA-Interim)", "d": 21.07, "v": 13.7}, {"s": "SD-WACCM(ERA-Interim)", "d": 21.14, "v": 14.9}, {"s": "SD-WACCM(ERA-Interim)", "d": 21.20, "v": 15.5}, {"s": "SD-WACCM(ERA-Interim)", "d": 21.27, "v": 14.9}, {"s": "SD-WACCM(ERA-Interim)", "d": 21.33, "v": 14.1}, {"s": "SD-WACCM(ERA-Interim)", "d": 21.40, "v": 14.9}, {"s": "SD-WACCM(ERA-Interim)", "d": 21.47, "v": 14.9}, {"s": "SD-WACCM(ERA-Interim)", "d": 21.53, "v": 15.3}, {"s": "SD-WACCM(ERA-Interim)", "d": 21.60, "v": 16.6}, {"s": "SD-WACCM(ERA-Interim)", "d": 21.67, "v": 16.6}, {"s": "SD-WACCM(ERA-Interim)", "d": 21.73, "v": 16.4}, {"s": "SD-WACCM(ERA-Interim)", "d": 21.83, "v": 16.1}, {"s": "SD-WACCM(ERA-Interim)", "d": 21.91, "v": 16.1}, {"s": "SD-WACCM(ERA-Interim)", "d": 22.01, "v": 16.1}, {"s": "SD-WACCM(ERA-Interim)", "d": 22.07, "v": 17.0}, {"s": "SD-WACCM(ERA-Interim)", "d": 22.17, "v": 17.2}, {"s": "SD-WACCM(ERA-Interim)", "d": 22.27, "v": 17.6}, {"s": "SD-WACCM(ERA-Interim)", "d": 22.37, "v": 18.4}, {"s": "SD-WACCM(ERA-Interim)", "d": 22.44, "v": 17.6}, {"s": "SD-WACCM(ERA-Interim)", "d": 22.50, "v": 16.4}, {"s": "SD-WACCM(ERA-Interim)", "d": 22.57, "v": 17.2}, {"s": "SD-WACCM(ERA-Interim)", "d": 22.64, "v": 21.5}, {"s": "SD-WACCM(ERA-Interim)", "d": 22.74, "v": 24.3}, {"s": "SD-WACCM(ERA-Interim)", "d": 22.82, "v": 26.2}, {"s": "SD-WACCM(ERA-Interim)", "d": 22.87, "v": 25.6}, {"s": "SD-WACCM(ERA-Interim)", "d": 22.97, "v": 25.3}, {"s": "SD-WACCM(ERA-Interim)", "d": 23.07, "v": 22.1}, {"s": "SD-WACCM(ERA-Interim)", "d": 23.17, "v": 22.1}, {"s": "SD-WACCM(ERA-Interim)", "d": 23.27, "v": 22.5}, {"s": "SD-WACCM(ERA-Interim)", "d": 23.33, "v": 24.3}, {"s": "SD-WACCM(ERA-Interim)", "d": 23.38, "v": 25.0}, {"s": "SD-WACCM(ERA-Interim)", "d": 23.43, "v": 23.5}, {"s": "SD-WACCM(ERA-Interim)", "d": 23.50, "v": 21.1}, {"s": "SD-WACCM(ERA-Interim)", "d": 23.60, "v": 19.6}, {"s": "SD-WACCM(ERA-Interim)", "d": 23.73, "v": 17.6}, {"s": "SD-WACCM(ERA-Interim)", "d": 23.83, "v": 18.0}, {"s": "SD-WACCM(ERA-Interim)", "d": 23.93, "v": 18.0}, {"s": "SD-WACCM(ERA-Interim)", "d": 24.03, "v": 20.4}, {"s": "SD-WACCM(ERA-Interim)", "d": 24.13, "v": 23.1}, {"s": "SD-WACCM(ERA-Interim)", "d": 24.19, "v": 23.7}, {"s": "SD-WACCM(ERA-Interim)", "d": 24.26, "v": 23.1}, {"s": "SD-WACCM(ERA-Interim)", "d": 24.33, "v": 22.1}, {"s": "SD-WACCM(ERA-Interim)", "d": 24.38, "v": 25.6}, {"s": "SD-WACCM(ERA-Interim)", "d": 24.44, "v": 23.9}, {"s": "SD-WACCM(ERA-Interim)", "d": 24.52, "v": 24.3}, {"s": "SD-WACCM(ERA-Interim)", "d": 24.59, "v": 23.5}, {"s": "SD-WACCM(ERA-Interim)", "d": 24.66, "v": 21.5}, {"s": "SD-WACCM(ERA-Interim)", "d": 24.72, "v": 19.2}, {"s": "SD-WACCM(ERA-Interim)", "d": 24.79, "v": 18.6}, {"s": "SD-WACCM(ERA-Interim)", "d": 24.85, "v": 18.8}, {"s": "SD-WACCM(ERA-Interim)", "d": 24.92, "v": 20.4}, {"s": "SD-WACCM(ERA-Interim)", "d": 24.99, "v": 19.6}, {"s": "SD-WACCM(ERA-Interim)", "d": 25.09, "v": 19.4}, {"s": "SD-WACCM(ERA-Interim)", "d": 25.19, "v": 19.2}, {"s": "SD-WACCM(ERA-Interim)", "d": 25.29, "v": 18.6}, {"s": "SD-WACCM(ERA-Interim)", "d": 25.38, "v": 21.1}, {"s": "SD-WACCM(ERA-Interim)", "d": 25.45, "v": 21.1}, {"s": "SD-WACCM(ERA-Interim)", "d": 25.55, "v": 20.6}, {"s": "SD-WACCM(ERA-Interim)", "d": 25.65, "v": 18.8}, {"s": "SD-WACCM(ERA-Interim)", "d": 25.75, "v": 17.8}, {"s": "SD-WACCM(ERA-Interim)", "d": 25.82, "v": 18.2}, {"s": "SD-WACCM(ERA-Interim)", "d": 25.91, "v": 20.0}, {"s": "SD-WACCM(ERA-Interim)", "d": 26.01, "v": 21.5}, {"s": "SD-WACCM(ERA-Interim)", "d": 26.10, "v": 23.5}, {"s": "SD-WACCM(ERA-Interim)", "d": 26.18, "v": 21.9}, {"s": "SD-WACCM(ERA-Interim)", "d": 26.25, "v": 20.4}, {"s": "SD-WACCM(ERA-Interim)", "d": 26.31, "v": 21.5}, {"s": "SD-WACCM(ERA-Interim)", "d": 26.41, "v": 23.9}, {"s": "SD-WACCM(ERA-Interim)", "d": 26.48, "v": 24.5}, {"s": "SD-WACCM(ERA-Interim)", "d": 26.58, "v": 26.6}, {"s": "SD-WACCM(ERA-Interim)", "d": 26.64, "v": 25.9}, {"s": "SD-WACCM(ERA-Interim)", "d": 26.71, "v": 24.7}, {"s": "SD-WACCM(ERA-Interim)", "d": 26.78, "v": 23.9}, {"s": "SD-WACCM(ERA-Interim)", "d": 26.84, "v": 24.3}, {"s": "SD-WACCM(ERA-Interim)", "d": 26.91, "v": 25.5}, {"s": "SD-WACCM(ERA-Interim)", "d": 26.97, "v": 26.3}, {"s": "SD-WACCM(ERA-Interim)", "d": 27.04, "v": 29.4}, {"s": "SD-WACCM(ERA-Interim)", "d": 27.11, "v": 29.8}, {"s": "SD-WACCM(ERA-Interim)", "d": 27.21, "v": 30.0}, {"s": "SD-WACCM(ERA-Interim)", "d": 27.27, "v": 27.8}, {"s": "SD-WACCM(ERA-Interim)", "d": 27.34, "v": 26.3}, {"s": "SD-WACCM(ERA-Interim)", "d": 27.40, "v": 27.4}, {"s": "SD-WACCM(ERA-Interim)", "d": 27.47, "v": 31.7}, {"s": "SD-WACCM(ERA-Interim)", "d": 27.54, "v": 35.2}, {"s": "SD-WACCM(ERA-Interim)", "d": 27.58, "v": 36.8}, {"s": "SD-WACCM(ERA-Interim)", "d": 27.64, "v": 35.6}, {"s": "SD-WACCM(ERA-Interim)", "d": 27.70, "v": 34.5}, {"s": "SD-WACCM(ERA-Interim)", "d": 27.77, "v": 33.3}, {"s": "SD-WACCM(ERA-Interim)", "d": 27.84, "v": 32.1}, {"s": "SD-WACCM(ERA-Interim)", "d": 27.90, "v": 31.7}, {"s": "SD-WACCM(ERA-Interim)", "d": 27.97, "v": 30.5}, {"s": "SD-WACCM(ERA-Interim)", "d": 28.03, "v": 30.2}, {"s": "SD-WACCM(ERA-Interim)", "d": 28.10, "v": 29.4}, {"s": "SD-WACCM(ERA-Interim)", "d": 28.17, "v": 27.8}, {"s": "SD-WACCM(ERA-Interim)", "d": 28.23, "v": 27.0}, {"s": "SD-WACCM(ERA-Interim)", "d": 28.30, "v": 26.3}, {"s": "SD-WACCM(ERA-Interim)", "d": 28.37, "v": 27.4}, {"s": "SD-WACCM(ERA-Interim)", "d": 28.43, "v": 26.3}, {"s": "SD-WACCM(ERA-Interim)", "d": 28.50, "v": 25.1}, {"s": "SD-WACCM(ERA-Interim)", "d": 28.56, "v": 24.3}, {"s": "SD-WACCM(ERA-Interim)", "d": 28.63, "v": 25.5}, {"s": "SD-WACCM(ERA-Interim)", "d": 28.70, "v": 26.3}, {"s": "SD-WACCM(ERA-Interim)", "d": 28.76, "v": 25.9}, {"s": "SD-WACCM(ERA-Interim)", "d": 28.83, "v": 24.7}, {"s": "SD-WACCM(ERA-Interim)", "d": 28.89, "v": 23.9}, {"s": "SD-WACCM(ERA-Interim)", "d": 28.99, "v": 23.9}, {"s": "SD-WACCM(ERA-Interim)", "d": 29.06, "v": 24.1}, {"s": "SD-WACCM(ERA-Interim)", "d": 29.13, "v": 25.1}, {"s": "SD-WACCM(ERA-Interim)", "d": 29.19, "v": 27.0}, {"s": "SD-WACCM(ERA-Interim)", "d": 29.26, "v": 27.4}, {"s": "SD-WACCM(ERA-Interim)", "d": 29.33, "v": 28.2}, {"s": "SD-WACCM(ERA-Interim)", "d": 29.42, "v": 28.2}, {"s": "SD-WACCM(ERA-Interim)", "d": 29.49, "v": 29.8}, {"s": "SD-WACCM(ERA-Interim)", "d": 29.56, "v": 32.1}, {"s": "SD-WACCM(ERA-Interim)", "d": 29.62, "v": 32.9}, {"s": "SD-WACCM(ERA-Interim)", "d": 29.69, "v": 30.9}, {"s": "SD-WACCM(ERA-Interim)", "d": 29.76, "v": 30.2}, {"s": "SD-WACCM(ERA-Interim)", "d": 29.82, "v": 30.6}, {"s": "SD-WACCM(ERA-Interim)", "d": 29.89, "v": 29.8}, {"s": "SD-WACCM(ERA-Interim)", "d": 29.95, "v": 28.2}, {"s": "SD-WACCM(ERA-Interim)", "d": 30.02, "v": 27.4}, {"s": "SD-WACCM(ERA-Interim)", "d": 30.09, "v": 29.0}, {"s": "SD-WACCM(ERA-Interim)", "d": 30.15, "v": 31.7}, {"s": "SD-WACCM(ERA-Interim)", "d": 30.22, "v": 32.1}, {"s": "SD-WACCM(ERA-Interim)", "d": 30.29, "v": 33.3}, {"s": "SD-WACCM(ERA-Interim)", "d": 30.35, "v": 34.1}, {"s": "SD-WACCM(ERA-Interim)", "d": 30.42, "v": 34.9},
      {"s": "LIDAR", "d": 19.81, "v": 19.8}, {"s": "LIDAR", "d": 23.00, "v": 13.7}, {"s": "LIDAR", "d": 23.00, "v": 12.5}, {"s": "LIDAR", "d": 23.07, "v": 15.1}, {"s": "LIDAR", "d": 23.10, "v": 12.7}, {"s": "LIDAR", "d": 23.13, "v": 13.1}, {"s": "LIDAR", "d": 23.73, "v": 13.1}, {"s": "LIDAR", "d": 23.80, "v": 13.9}, {"s": "LIDAR", "d": 23.83, "v": 15.1}, {"s": "LIDAR", "d": 23.89, "v": 12.9}, {"s": "LIDAR", "d": 23.91, "v": 8.7}, {"s": "LIDAR", "d": 23.95, "v": 11.2}, {"s": "LIDAR", "d": 23.96, "v": 12.1}, {"s": "LIDAR", "d": 24.85, "v": 15.1}, {"s": "LIDAR", "d": 24.92, "v": 13.1}, {"s": "LIDAR", "d": 24.99, "v": 15.7}, {"s": "LIDAR", "d": 25.02, "v": 14.5}, {"s": "LIDAR", "d": 25.12, "v": 12.1}, {"s": "LIDAR", "d": 25.12, "v": 15.7}, {"s": "LIDAR", "d": 25.15, "v": 13.3}, {"s": "LIDAR", "d": 25.20, "v": 14.5}, {"s": "LIDAR", "d": 25.32, "v": 15.9}, {"s": "LIDAR", "d": 25.35, "v": 18.6}, {"s": "LIDAR", "d": 26.08, "v": 24.0}, {"s": "LIDAR", "d": 26.11, "v": 26.9}, {"s": "LIDAR", "d": 26.60, "v": 28.4}, {"s": "LIDAR", "d": 26.61, "v": 27.6}, {"s": "LIDAR", "d": 26.64, "v": 29.4}, {"s": "LIDAR", "d": 26.71, "v": 31.9}, {"s": "LIDAR", "d": 26.77, "v": 32.7}, {"s": "LIDAR", "d": 26.88, "v": 36.8}, {"s": "LIDAR", "d": 26.91, "v": 38.0}, {"s": "LIDAR", "d": 26.96, "v": 40.6}, {"s": "LIDAR", "d": 26.97, "v": 38.8}, {"s": "LIDAR", "d": 27.07, "v": 38.8}, {"s": "LIDAR", "d": 27.11, "v": 47.4}, {"s": "LIDAR", "d": 27.21, "v": 47.0}, {"s": "LIDAR", "d": 27.24, "v": 41.3}, {"s": "LIDAR", "d": 27.27, "v": 38.8}, {"s": "LIDAR", "d": 27.37, "v": 36.4}, {"s": "LIDAR", "d": 27.44, "v": 36.2}, {"s": "LIDAR", "d": 27.49, "v": 37.6}, {"s": "LIDAR", "d": 27.54, "v": 46.5}, {"s": "LIDAR", "d": 27.57, "v": 50.7}, {"s": "LIDAR", "d": 27.60, "v": 43.3}, {"s": "LIDAR", "d": 27.67, "v": 43.9}, {"s": "LIDAR", "d": 27.70, "v": 39.7}, {"s": "LIDAR", "d": 27.76, "v": 38.0}, {"s": "LIDAR", "d": 27.80, "v": 43.9}, {"s": "LIDAR", "d": 27.82, "v": 39.9}, {"s": "LIDAR", "d": 28.70, "v": 18.6}, {"s": "LIDAR", "d": 28.70, "v": 20.0}, {"s": "LIDAR", "d": 28.76, "v": 19.4}, {"s": "LIDAR", "d": 28.78, "v": 22.1}, {"s": "LIDAR", "d": 28.83, "v": 23.7}
    ]
  },
  "hconcat": [
    {
      "width": 855,
      "height": 703,
      "title": {"text": "Na \u00a0abundance@ALOMAR"},
      "data": {"name": "na"},
      "layer": [
        {
          "transform": [{"filter": "datum.s != 'LIDAR'"}],
          "mark": {"type": "line", "strokeWidth": 4.5, "clip": true},
          "encoding": {
            "x": {"field": "d", "type": "quantitative", "scale": {"domain": [13.5, 30.45], "nice": false, "zero": false}, "axis": {"values": [15, 17, 19, 21, 23, 25, 27, 29], "labelExpr": "datum.value == 15 ? ['15JAN', '2009'] : datum.value + 'JAN'", "title": null}},
            "y": {"field": "v", "type": "quantitative", "scale": {"domain": [1, 10], "nice": false, "zero": false}, "axis": {"values": [1, 2, 3, 4, 5, 6, 7, 8, 9, 10], "title": "Na total abundance density (1e9*cm\u22122)"}},
            "color": {"field": "s", "type": "nominal", "scale": {"domain": ["LIDAR", "SD-WACCM(GEOS5)", "SD-WACCM(ERA-Interim)"], "range": ["#000000", "#ff0000", "#00dd00"]}, "legend": {"legendX": 197, "legendY": 79}},
            "strokeDash": {"field": "s", "type": "nominal", "scale": {"domain": ["LIDAR", "SD-WACCM(GEOS5)", "SD-WACCM(ERA-Interim)"], "range": [[1, 0], [24, 9], [1, 0]]}, "legend": {"legendX": 197, "legendY": 79}}
          }
        },
        {
          "transform": [{"filter": "datum.s == 'LIDAR'"}],
          "mark": {"type": "point", "shape": "cross", "filled": true, "color": "black", "opacity": 1, "size": 150},
          "encoding": {
            "x": {"field": "d", "type": "quantitative"},
            "y": {"field": "v", "type": "quantitative"}
          }
        }
      ]
    },
    {
      "vconcat": [
        {
          "width": 852,
          "height": 15,
          "view": {"stroke": null},
          "title": {"text": "Fe abundance@ALOMAR", "offset": -4},
          "data": {"values": []},
          "mark": "point",
          "encoding": {}
        },
        {
          "width": 852,
          "height": 703,
          "data": {"name": "fe"},
          "layer": [
            {
              "transform": [{"filter": "datum.s != 'LIDAR'"}],
              "mark": {"type": "line", "strokeWidth": 4.5, "clip": true},
              "encoding": {
                "x": {"field": "d", "type": "quantitative", "scale": {"domain": [13.5, 30.45], "nice": false, "zero": false}, "axis": {"values": [15, 17, 19, 21, 23, 25, 27, 29], "labelExpr": "datum.value == 15 ? ['15JAN', '2009'] : datum.value + 'JAN'", "title": null}},
                "y": {"field": "v", "type": "quantitative", "scale": {"domain": [0, 60], "nice": false, "zero": false}, "axis": {"values": [0, 5, 10, 15, 20, 25, 30, 35, 40, 45, 50, 55, 60], "title": "Fe total abundance density (1e9*cm\u22122)"}},
                "color": {"field": "s", "type": "nominal", "scale": {"domain": ["LIDAR", "SD-WACCM(GEOS5)", "SD-WACCM(ERA-Interim)"], "range": ["#000000", "#ff0000", "#00dd00"]}, "legend": {"legendX": -2, "legendY": 594}},
                "strokeDash": {"field": "s", "type": "nominal", "scale": {"domain": ["LIDAR", "SD-WACCM(GEOS5)", "SD-WACCM(ERA-Interim)"], "range": [[1, 0], [24, 9], [1, 0]]}, "legend": {"legendX": -2, "legendY": 594}}
              }
            },
            {
              "transform": [{"filter": "datum.s == 'LIDAR'"}],
              "mark": {"type": "point", "shape": "cross", "filled": true, "color": "black", "opacity": 1, "size": 150},
              "encoding": {
                "x": {"field": "d", "type": "quantitative"},
                "y": {"field": "v", "type": "quantitative"}
              }
            }
          ]
        }
      ],
      "spacing": 0,
      "bounds": "flush"
    }
  ]
}
